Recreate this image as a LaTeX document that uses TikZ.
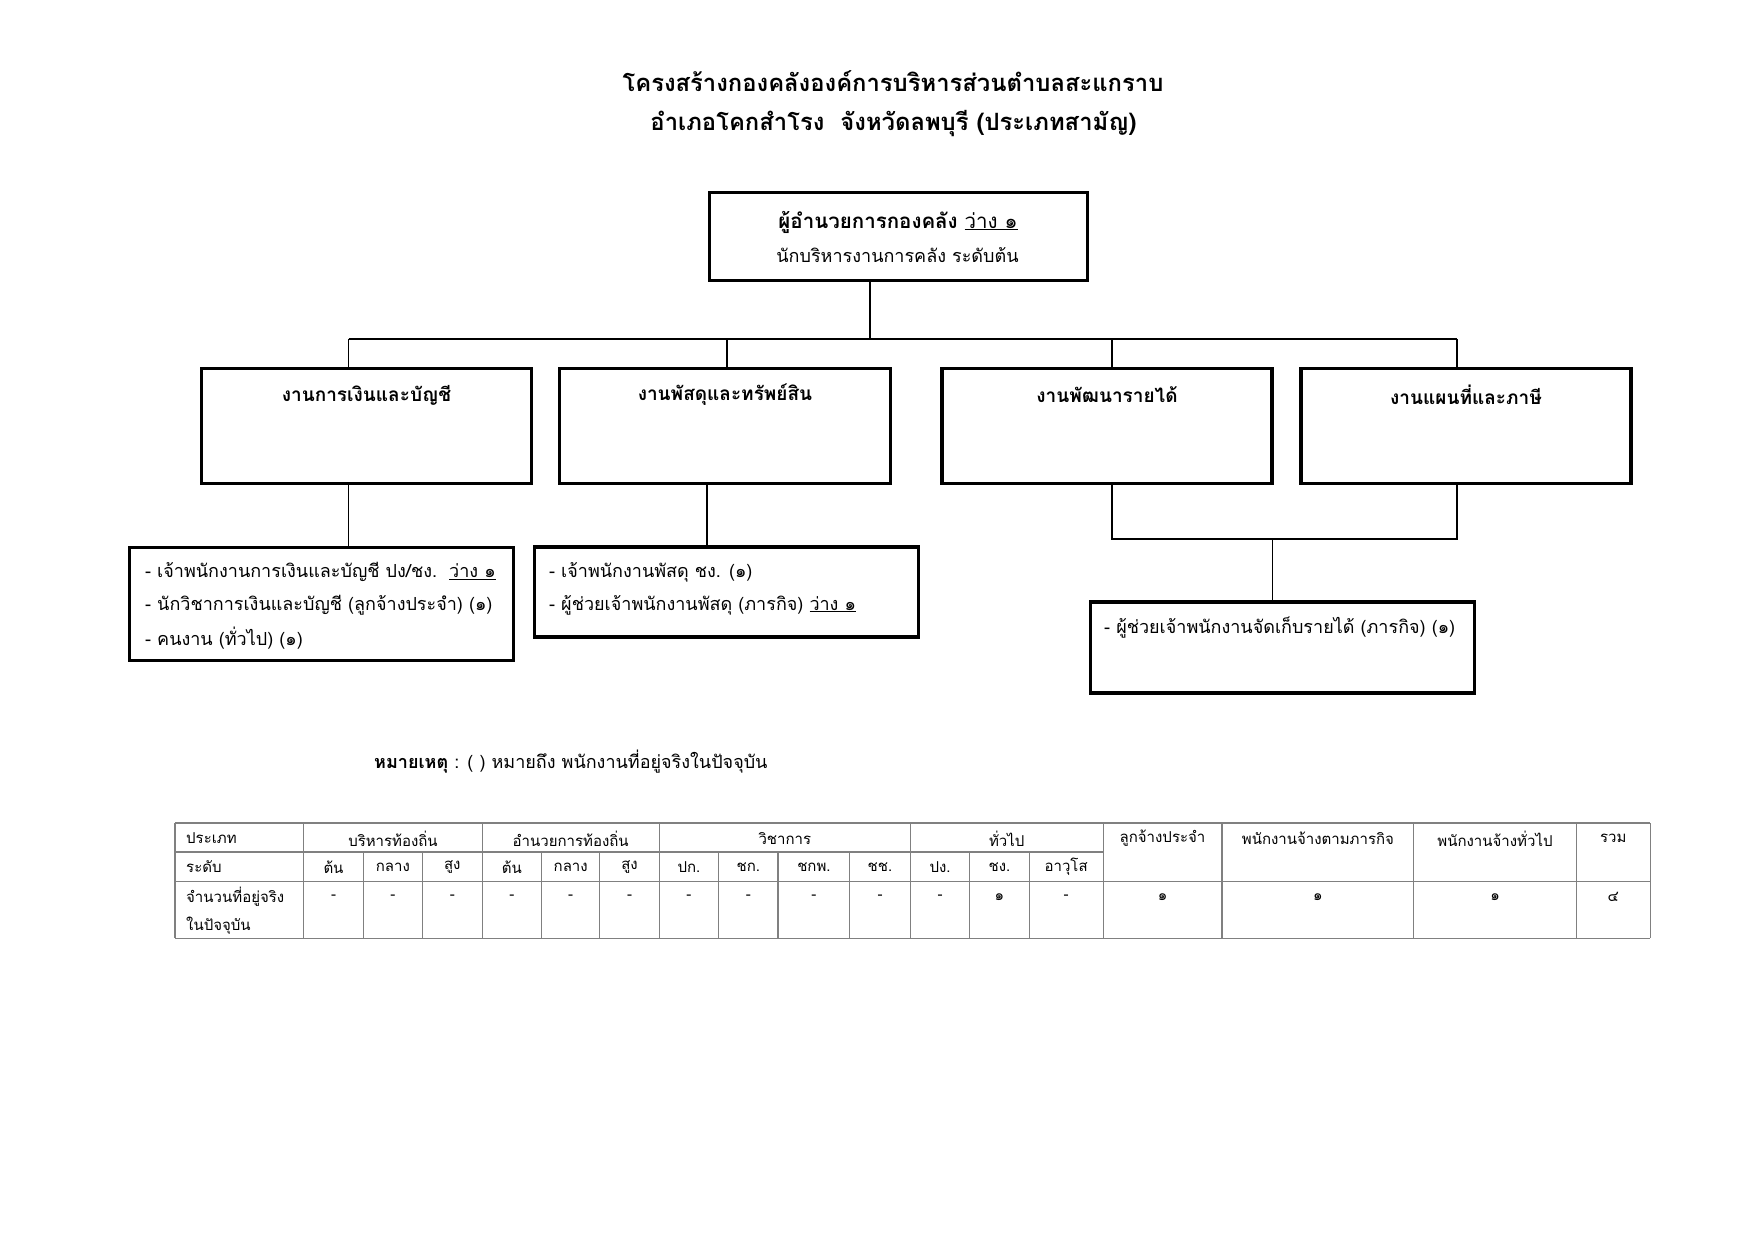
\documentclass[tikz,border=0pt]{standalone}
\usepackage{fontspec}
\newfontfamily\thai[Script=Thai]{Loma}
\begin{document}
\begin{tikzpicture}[x=1pt,y=-1pt,
  box/.style={draw, line width=3.2pt, inner sep=0pt},
  conn/.style={line width=1.4pt},
  grid/.style={draw=black!50, line width=1.2pt},
  lbl/.style={inner sep=0pt, font=\thai\fontsize{18}{22}\selectfont},
  blbl/.style={inner sep=0pt, font=\thai\bfseries\fontsize{19}{22}\selectfont},
  tlbl/.style={inner sep=0pt, font=\thai\fontsize{15}{18}\selectfont},
]
\useasboundingbox (0,0) rectangle (1754,1241);
% title
\node[inner sep=0pt, font=\thai\bfseries\fontsize{23.8}{28}\selectfont] (t1) at (893,81) {โครงสร้างกองคลังองค์การบริหารส่วนตำบลสะแกราบ};
\node[inner sep=0pt, font=\thai\bfseries\fontsize{23.8}{28}\selectfont] (t2) at (893.5,124) {อำเภอโคกสำโรง\ \ จังหวัดลพบุรี (ประเภทสามัญ)};
% top box
\node[box, minimum width=378pt, minimum height=88pt] (top) at (898.5,236.5) {};
\node[inner sep=0pt, font=\thai\fontsize{20.5}{22}\selectfont] (topl1) at (898,222) {\bfseries ผู้อำนวยการกองคลัง \mdseries\underline{ว่าง ๑}};
\node[lbl] (topl2) at (897.5,255) {นักบริหารงานการคลัง ระดับต้น};
% level 2 boxes
\node[box, minimum width=330pt, minimum height=115pt] (A) at (366.5,426) {};
\node[box, minimum width=331pt, minimum height=115pt] (B) at (725,426) {};
\node[box, minimum width=330pt, minimum height=115pt] (C) at (1107,426) {};
\node[box, minimum width=330pt, minimum height=115pt] (D) at (1466,426) {};
\node[blbl] (Al) at (366.5,395) {งานการเงินและบัญชี};
\node[blbl] (Bl) at (725,395) {งานพัสดุและทรัพย์สิน};
\node[blbl] (Cl) at (1107,395) {งานพัฒนารายได้};
\node[blbl] (Dl) at (1466,395) {งานแผนที่และภาษี};
% level 3 boxes
\node[box, minimum width=384pt, minimum height=113pt] (As) at (321.5,603.7) {};
\node[box, minimum width=384pt, minimum height=90pt] (Bs) at (726.6,592) {};
\node[box, minimum width=384pt, minimum height=91pt] (E) at (1282.3,647.5) {};
\node[lbl, anchor=west] (As1) at (145,572) {- เจ้าพนักงานการเงินและบัญชี ปง/ชง.\ \ \underline{ว่าง ๑}};
\node[lbl, anchor=west] (As2) at (145,605) {- นักวิชาการเงินและบัญชี (ลูกจ้างประจำ) (๑)};
\node[lbl, anchor=west] (As3) at (145,638) {- คนงาน (ทั่วไป) (๑)};
\node[lbl, anchor=west] (Bs1) at (549,572) {- เจ้าพนักงานพัสดุ ชง. (๑)};
\node[lbl, anchor=west] (Bs2) at (549,605) {- ผู้ช่วยเจ้าพนักงานพัสดุ (ภารกิจ) \underline{ว่าง ๑}};
\node[lbl, anchor=west] (E1) at (1104,628) {- ผู้ช่วยเจ้าพนักงานจัดเก็บรายได้ (ภารกิจ) (๑)};
% connectors
\coordinate (j0) at (870,339);
\coordinate (jA) at (348.5,339);
\coordinate (jB) at (727,339);
\coordinate (jC) at (1112,339);
\coordinate (jD) at (1457,339);
\draw[conn] (top.south -| j0) -- (j0);
\draw[conn] (jA) -- (jD);
\draw[conn] (jA) -- (jA |- A.north);
\draw[conn] (jB) -- (jB |- B.north);
\draw[conn] (jC) -- (jC |- C.north);
\draw[conn] (jD) -- (jD |- D.north);
\coordinate (kA) at (348.5,0);
\coordinate (kB) at (707,0);
\draw[conn] (kA |- A.south) -- (kA |- As.north);
\draw[conn] (kB |- B.south) -- (kB |- Bs.north);
\coordinate (kC) at (1112,539);
\coordinate (kD) at (1457,539);
\coordinate (kE) at (1272.5,539);
\draw[conn] (kC |- C.south) -- (kC) -- (kD) -- (kD |- D.south);
\draw[conn] (kE) -- (kE |- E.north);
% note
\node[lbl, anchor=west] (note) at (374,762) {\bfseries หมายเหตุ \mdseries: ( ) หมายถึง พนักงานที่อยู่จริงในปัจจุบัน};
% table grid
\foreach \x in {175,303.8,482.1,659.2,910.3,1103.1,1222,1413.7,1576.2,1650.2}
  \draw[grid] (\x,823) -- (\x,938.3);
\foreach \x in {363.2,422.6,541.5,599.8,718.6,778,849.8,969.7,1029.1}
  \draw[grid] (\x,852) -- (\x,938.3);
\draw[grid] (175,823) -- (1650.2,823);
\draw[grid] (175,852) -- (1103.1,852);
\draw[grid] (175,881.2) -- (1650.2,881.2);
\draw[grid] (175,938.3) -- (1650.2,938.3);
% table texts
\node[tlbl, anchor=west] (h0) at (186,838.5) {ประเภท};
\node[tlbl] (h1) at (393,838.5) {บริหารท้องถิ่น};
\node[tlbl] (h2) at (570.7,838.5) {อำนวยการท้องถิ่น};
\node[tlbl] (h3) at (784.8,838.5) {วิชาการ};
\node[tlbl] (h4) at (1006.7,838.5) {ทั่วไป};
\node[tlbl] (h5) at (1162.5,838.5) {ลูกจ้างประจำ};
\node[tlbl] (h6) at (1317.9,838.5) {พนักงานจ้างตามภารกิจ};
\node[tlbl] (h7) at (1495,838.5) {พนักงานจ้างทั่วไป};
\node[tlbl] (h8) at (1613.2,838.5) {รวม};
\node[tlbl, anchor=west] (r0) at (186,867) {ระดับ};
\foreach \c/\t [count=\i] in {333.5/ต้น,392.9/กลาง,452.3/สูง,511.8/ต้น,570.7/กลาง,629.5/สูง,688.9/ปก.,748.3/ชก.,813.9/ชกพ.,880/ชช.,940/ปง.,999.4/ชง.,1066.1/อาวุโส}
  \node[tlbl, name=lv\i] at (\c,867) {\t};
\node[tlbl, anchor=west] (n0) at (186,897) {จำนวนที่อยู่จริง};
\node[tlbl, anchor=west] (n0b) at (186,926) {ในปัจจุบัน};
\foreach \c/\t [count=\i] in {333.5/-,392.9/-,452.3/-,511.8/-,570.7/-,629.5/-,688.9/-,748.3/-,813.9/-,880/-,940/-,999.4/๑,1066.1/-,1162.5/๑,1317.9/๑,1495/๑,1613.2/๔}
  \node[tlbl, name=v\i] at (\c,897) {\t};
\end{tikzpicture}
\end{document}
